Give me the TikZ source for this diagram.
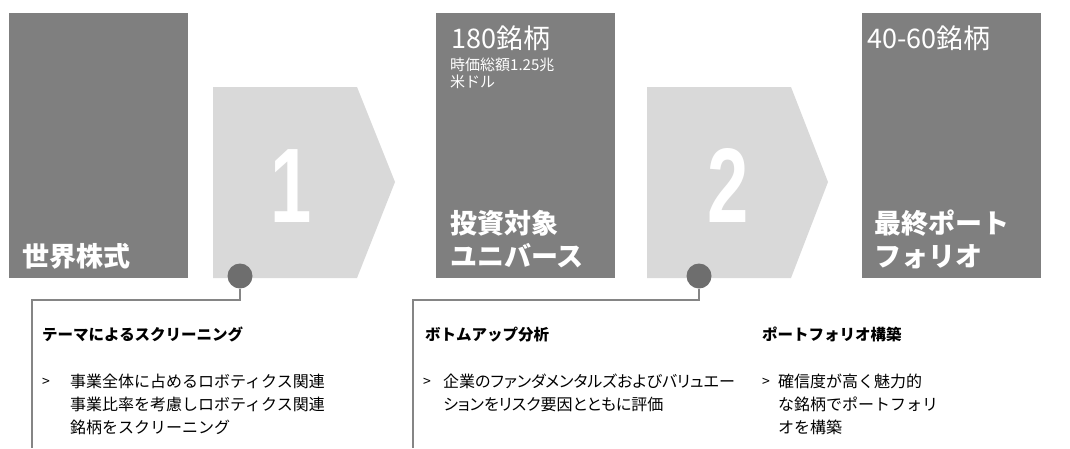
\documentclass[tikz,border=0pt]{standalone}
\usepackage{fontspec}
\setmainfont{Noto Sans CJK JP}
\newfontfamily\numfont{Liberation Sans}
\newfontfamily\palfont{Noto Sans CJK JP}[RawFeature=+palt]
\definecolor{darkbox}{HTML}{7F7F7F}
\definecolor{lightbox}{HTML}{D9D9D9}
\definecolor{dotgray}{HTML}{6E6E6E}
\definecolor{linegray}{HTML}{858585}
\begin{document}
\begin{tikzpicture}[x=1pt,y=-1pt,
  stagebox/.style={fill=darkbox,draw=none,minimum width=179pt,minimum height=265pt,inner sep=0pt},
  chevron/.style={fill=lightbox,draw=none},
  boxlabel/.style={text=white,font=\fontsize{27}{33}\selectfont\bfseries,anchor=base west,inner sep=0pt,align=left},
  boxcount/.style={text=white,font=\fontsize{27}{33}\selectfont,anchor=base west,inner sep=0pt},
  boxsmall/.style={text=white,font=\fontsize{15}{17}\selectfont,anchor=base west,inner sep=0pt,align=left},
  bignum/.style={text=white,font=\numfont\bfseries\fontsize{106}{106}\selectfont,anchor=base,inner sep=0pt,xscale=0.7},
  dotnode/.style={circle,fill=dotgray,minimum size=25pt,inner sep=0pt},
  leader/.style={draw=linegray,line width=1.3pt},
  heading/.style={font=\fontsize{15.5}{20}\selectfont\bfseries,anchor=base west,inner sep=0pt},
  bullet/.style={font=\fontsize{14}{23}\selectfont,anchor=base west,inner sep=0pt},
  body/.style={font=\fontsize{16}{23}\selectfont,anchor=base west,inner sep=0pt,align=left},
  bodypal/.style={font=\palfont\fontsize{16}{23}\selectfont,anchor=base west,inner sep=0pt,align=left}
]
\useasboundingbox (0,0) rectangle (1070,448);
% boxes
\node[stagebox] (b1) at (98.5,145.5) {};
\node[stagebox] (b2) at (525.5,145.5) {};
\node[stagebox] (b3) at (951,145.5) {};
\node[boxlabel] (b1t) at (22,266) {世界株式};
\node[boxcount] (b2c) at (451,48) {180銘柄};
\node[boxsmall] (b2s) at (450,87) {時価総額1.25兆\\米ドル};
\node[boxlabel] (b2t) at (450,266) {投資対象\\ユニバース};
\node[boxcount] (b3c) at (867,48) {40-60銘柄};
\node[boxlabel] (b3t) at (874,266) {最終ポート\\フォリオ};
% chevrons
\fill[chevron] (213,87) -- (357,87) -- (395,182) -- (357,278) -- (213,278) -- cycle;
\fill[chevron] (647,87) -- (791,87) -- (828,182) -- (791,278) -- (647,278) -- cycle;
\node[bignum] (n1) at (291,222) {1};
\node[bignum] (n2) at (728,222) {2};
% dots and leaders
\node[dotnode] (d1) at (240,276) {};
\node[dotnode] (d2) at (699,276) {};
\coordinate (c1a) at (240,300);
\coordinate (c1b) at (32,300);
\coordinate (c1c) at (32,448);
\coordinate (c2a) at (699,300);
\coordinate (c2b) at (413,300);
\coordinate (c2c) at (413,448);
\draw[leader] (d1) -- (c1a) -- (c1b) -- (c1c);
\draw[leader] (d2) -- (c2a) -- (c2b) -- (c2c);
% text columns
\node[heading] (h1) at (42,340) {テーマによるスクリーニング};
\node[bullet] (p1) at (42,386) {>};
\node[body] (t1) at (70,433) {事業全体に占めるロボティクス関連\\事業比率を考慮しロボティクス関連\\銘柄をスクリーニング};
\node[heading] (h2) at (425,340) {ボトムアップ分析};
\node[bullet] (p2) at (423,386) {>};
\node[bodypal] (t2) at (443,410) {企業のファンダメンタルズおよびバリュエー\\ションをリスク要因とともに評価};
\node[heading] (h3) at (762,340) {ポートフォリオ構築};
\node[bullet] (p3) at (762,386) {>};
\node[body] (t3) at (778,433) {確信度が高く魅力的\\な銘柄でポートフォリ\\オを構築};
\end{tikzpicture}
\end{document}
